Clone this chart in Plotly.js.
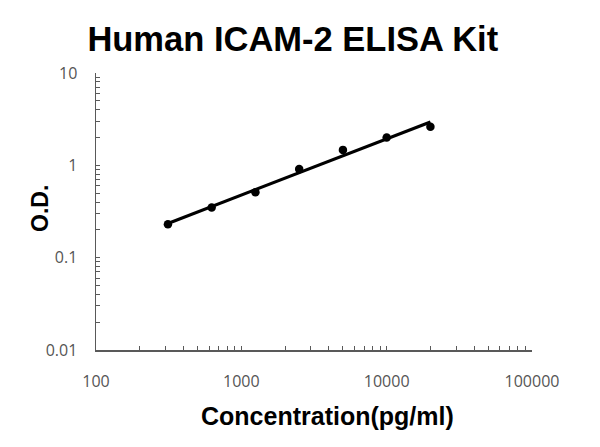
<!DOCTYPE html>
<html>
<head>
<meta charset="utf-8">
<script src="https://cdn.plot.ly/plotly-3.0.1.min.js"></script>
<style>
  html, body { margin: 0; padding: 0; background: #fff; }
  #myDiv { width: 600px; height: 447px; }
</style>
</head>
<body>
<div id="myDiv"></div>
<script>
// standard curve points
var conc = [312.5, 625, 1250, 2500, 5000, 10000, 20000];
var od = [0.23, 0.35, 0.51, 0.91, 1.47, 2.0, 2.62];

// trend line
var fitX = [312.5, 20000];
var fitY = [0.235, 2.95];

var xDecades = [100, 1000, 10000, 100000];
var yDecades = [0.01, 0.1, 1, 10];
var yDecadeText = ['0.01', '0.1', '1', '10'];

function logTicks(decades, labels){
	var vals = [], text = [];
	for (var d = 0; d < decades.length; d++) {
		vals.push(decades[d]);
		text.push(labels[d]);
		if (d == decades.length - 1) break;
		for (var m = 2; m <= 9; m++) {
			vals.push(decades[d] * m);
			text.push('');
		}
	}
	return {vals: vals, text: text};
}

var xt = logTicks(xDecades, xDecades.map(String));
var yt = logTicks(yDecades, yDecadeText);

var line = {
	x: fitX,
	y: fitY,
	mode: 'lines',
	type: 'scatter',
	line: {color: '#000', width: 3.2},
	hoverinfo: 'skip'
};

var points = {
	x: conc,
	y: od,
	mode: 'markers',
	type: 'scatter',
	marker: {color: '#000', size: 8.5}
};

var boldFont = 'Liberation Sans, Arial, sans-serif';
var axisFont = {family: 'Open Sans, sans-serif', size: 16, color: '#555'};

var layout = {
	width: 600,
	height: 447,
	showlegend: false,
	paper_bgcolor: '#fff',
	plot_bgcolor: '#fff',
	margin: {l: 96, r: 68, t: 73, b: 97},
	title: {
		text: '<b>Human ICAM-2 ELISA Kit</b>',
		font: {family: boldFont, size: 34.5, color: '#000'},
		x: 0.488, xanchor: 'center',
		y: 0.912, yanchor: 'middle'
	},
	xaxis: {
		type: 'log',
		range: [2, 5],
		tickmode: 'array',
		tickvals: xt.vals,
		ticktext: xt.text,
		ticks: 'inside',
		ticklen: 4,
		tickwidth: 1,
		tickcolor: '#595959',
		showline: true,
		linecolor: '#595959',
		linewidth: 1.5,
		showgrid: false,
		zeroline: false,
		tickfont: axisFont,
		ticklabelstandoff: 16
	},
	yaxis: {
		type: 'log',
		range: [-2, 1],
		tickmode: 'array',
		tickvals: yt.vals,
		ticktext: yt.text,
		ticks: 'inside',
		ticklen: 4,
		tickwidth: 1,
		tickcolor: '#595959',
		showline: true,
		linecolor: '#595959',
		linewidth: 1.5,
		showgrid: false,
		zeroline: false,
		tickfont: axisFont,
		ticklabelstandoff: 14
	},
	annotations: [
		{
			text: '<b>Concentration(pg/ml)</b>',
			xref: 'paper', yref: 'paper',
			x: 0.53, y: -0.238,
			xanchor: 'center', yanchor: 'middle',
			showarrow: false,
			font: {family: boldFont, size: 25, color: '#000'}
		},
		{
			text: '<b>O.D.</b>',
			xref: 'paper', yref: 'paper',
			x: -0.128, y: 0.51,
			xanchor: 'center', yanchor: 'middle',
			textangle: -90,
			showarrow: false,
			font: {family: boldFont, size: 23, color: '#000'}
		}
	]
};

Plotly.newPlot('myDiv', [line, points], layout, {displayModeBar: false, staticPlot: true});
</script>
</body>
</html>
